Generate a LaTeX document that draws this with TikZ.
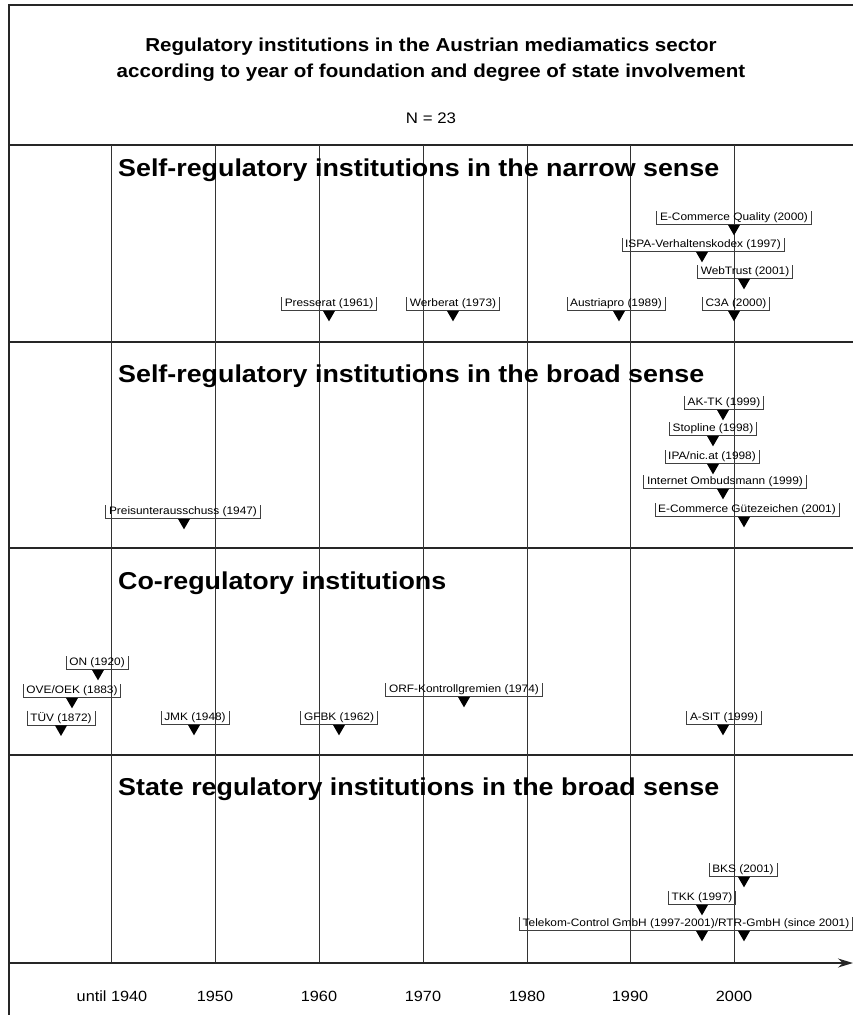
\documentclass[tikz,border=0pt]{standalone}
\usepackage{fontspec}
\setmainfont{Liberation Sans}[FakeStretch=1.1]
\usetikzlibrary{shapes.geometric,arrows.meta}

\begin{document}
\begin{tikzpicture}[x=1pt, y=-1pt,
frameline/.style={line width=1.6pt, black!85},
gridline/.style={line width=0.7pt, black!80},
sectitle/.style={anchor=west, inner sep=0pt, font=\bfseries\fontsize{24.4}{27}\selectfont},
yearlab/.style={font=\fontsize{14.8}{17}\selectfont},
bracket/.style={draw=black!75, line width=0.8pt},
inst/.style={font=\fontsize{10.8}{12}\selectfont, inner xsep=3pt, inner ysep=1.6pt,
	append after command={\pgfextra{\draw[bracket] (\tikzlastnode.north west) |- (\tikzlastnode.south east) -- (\tikzlastnode.north east);}}},
tri/.style={regular polygon, regular polygon sides=3, shape border rotate=180, fill=black,
	inner sep=0pt, outer sep=0pt, minimum size=14pt, anchor=north},
]
\useasboundingbox (0,0) rectangle (853,1015);

% frame and bands
\draw[frameline] (9,1015) -- (9,5) -- (853,5);
\foreach \sy in {145,342,548,755}
	\draw[frameline] (9,\sy) -- (853,\sy);
\foreach \gx in {111,215,319,423,527,630,734}
	\draw[gridline] (\gx,145) -- (\gx,963);
\draw[frameline, -{Stealth[length=15pt,width=9pt]}] (9,963) -- (853,963);

% title
\node[font=\bfseries\fontsize{18.7}{26}\selectfont, align=center] (title) at (431,60)
	{Regulatory institutions in the Austrian mediamatics sector\\according to year of foundation and degree of state involvement};
\node[font=\fontsize{15.3}{18}\selectfont] (count) at (431,118) {N = 23};

% band titles
\node[sectitle] (narrow) at (118,170) {Self-regulatory institutions in the narrow sense};
\node[sectitle] (broad) at (118,376) {Self-regulatory institutions in the broad sense};
\node[sectitle] (coreg) at (118,583) {Co-regulatory institutions};
\node[sectitle] (state) at (118,789) {State regulatory institutions in the broad sense};

% time axis
\foreach \gx/\lab in {112/until 1940,215/1950,319/1960,423/1970,527/1980,630/1990,734/2000}
	\node[yearlab] (yr\gx) at (\gx,996) {\lab};

% self-regulation, narrow sense
\node[inst] (ecq) at (734,218) {E-Commerce Quality (2000)};
\node[tri] (ecq-y) at (ecq.south -| 734,0) {};
\node[inst] (ispa) at (703,245) {ISPA-Verhaltenskodex (1997)};
\node[tri] (ispa-y) at (ispa.south -| 702,0) {};
\node[inst] (webtrust) at (745,272) {WebTrust (2001)};
\node[tri] (webtrust-y) at (webtrust.south -| 744,0) {};
\node[inst] (c3a) at (736,304) {C3A (2000)};
\node[tri] (c3a-y) at (c3a.south -| 734,0) {};
\node[inst] (presserat) at (329,304) {Presserat (1961)};
\node[tri] (presserat-y) at (presserat.south -| 329,0) {};
\node[inst] (werberat) at (453,304) {Werberat (1973)};
\node[tri] (werberat-y) at (werberat.south -| 453,0) {};
\node[inst] (austriapro) at (616,304) {Austriapro (1989)};
\node[tri] (austriapro-y) at (austriapro.south -| 619,0) {};

% self-regulation, broad sense
\node[inst] (aktk) at (724,403) {AK-TK (1999)};
\node[tri] (aktk-y) at (aktk.south -| 723,0) {};
\node[inst] (stopline) at (713,429) {Stopline (1998)};
\node[tri] (stopline-y) at (stopline.south -| 713,0) {};
\node[inst] (ipa) at (712,457) {IPA/nic.at (1998)};
\node[tri] (ipa-y) at (ipa.south -| 713,0) {};
\node[inst] (ombuds) at (725,482) {Internet Ombudsmann (1999)};
\node[tri] (ombuds-y) at (ombuds.south -| 723,0) {};
\node[inst] (ecg) at (747,510) {E-Commerce Gütezeichen (2001)};
\node[tri] (ecg-y) at (ecg.south -| 744,0) {};
\node[inst] (preis) at (183,512) {Preisunterausschuss (1947)};
\node[tri] (preis-y) at (preis.south -| 184,0) {};

% co-regulation
\node[inst] (on) at (97,663) {ON (1920)};
\node[tri] (on-y) at (on.south -| 98,0) {};
\node[inst] (ove) at (72,691) {OVE/OEK (1883)};
\node[tri] (ove-y) at (ove.south -| 72,0) {};
\node[inst] (tuev) at (61,718) {TÜV (1872)};
\node[tri] (tuev-y) at (tuev.south -| 61,0) {};
\node[inst] (jmk) at (195,718) {JMK (1948)};
\node[tri] (jmk-y) at (jmk.south -| 194,0) {};
\node[inst] (gfbk) at (339,718) {GFBK (1962)};
\node[tri] (gfbk-y) at (gfbk.south -| 339,0) {};
\node[inst] (orf) at (464,690) {ORF-Kontrollgremien (1974)};
\node[tri] (orf-y) at (orf.south -| 464,0) {};
\node[inst] (asit) at (724,718) {A-SIT (1999)};
\node[tri] (asit-y) at (asit.south -| 723,0) {};

% state regulation
\node[inst] (bks) at (743,870) {BKS (2001)};
\node[tri] (bks-y) at (bks.south -| 744,0) {};
\node[inst] (tkk) at (702,898) {TKK (1997)};
\node[tri] (tkk-y) at (tkk.south -| 702,0) {};
\node[inst] (tcg) at (686,924) {Telekom-Control GmbH (1997-2001)/RTR-GmbH (since 2001)};
\node[tri] (tcg-a) at (tcg.south -| 702,0) {};
\node[tri] (tcg-b) at (tcg.south -| 744,0) {};
\end{tikzpicture}
\end{document}
